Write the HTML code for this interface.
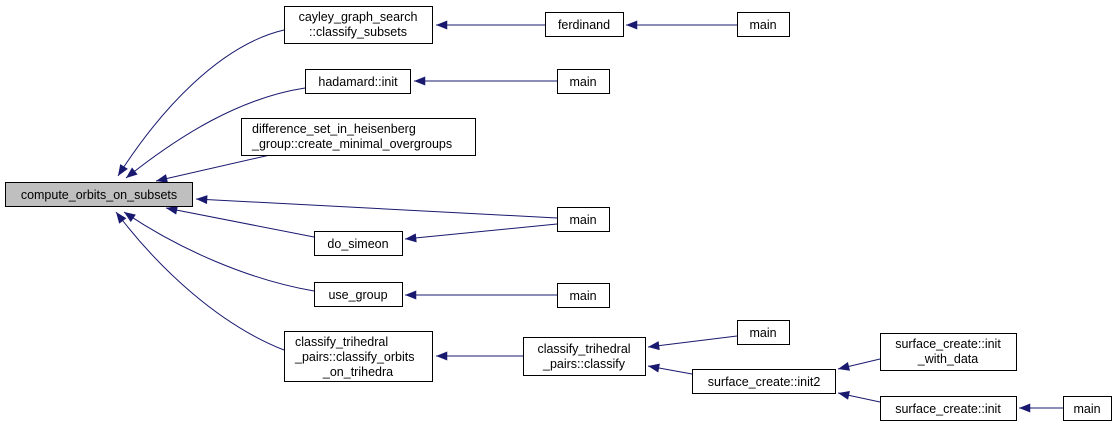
<!DOCTYPE html>
<html><head><meta charset="utf-8"><style>
html,body{margin:0;padding:0;background:#fff;width:1120px;height:427px;overflow:hidden}
svg text{font-family:"Liberation Sans",sans-serif;font-size:12.5px;fill:#000;text-anchor:middle}
svg text.l{text-anchor:start}
.n rect{fill:#fff;stroke:#000;stroke-width:1}
.e{fill:none;stroke:#191970;stroke-width:1}
</style></head><body>
<svg width="1120" height="427" viewBox="0 0 1120 427">
<defs><marker id="ar" viewBox="0 0 10 8" refX="10" refY="4" markerWidth="12" markerHeight="9" markerUnits="userSpaceOnUse" orient="auto"><path d="M0,0 L10,4 L0,8 z" fill="#191970"/></marker></defs>
<g>
<path class="e" marker-end="url(#ar)" d="M284,30 C220,45 160,110 118,176"/>
<path class="e" marker-end="url(#ar)" d="M305,88 C240,98 180,135 126,178"/>
<path class="e" marker-end="url(#ar)" d="M270,155 L156,181"/>
<path class="e" marker-end="url(#ar)" d="M557,218 L196,199"/>
<path class="e" marker-end="url(#ar)" d="M314,237 L166,208"/>
<path class="e" marker-end="url(#ar)" d="M314,291 C250,280 180,250 124,212"/>
<path class="e" marker-end="url(#ar)" d="M284,350 C220,325 160,270 116,212"/>
<path class="e" marker-end="url(#ar)" d="M545,25 L436,25"/>
<path class="e" marker-end="url(#ar)" d="M737,25 L626,25"/>
<path class="e" marker-end="url(#ar)" d="M557,81 L414,81"/>
<path class="e" marker-end="url(#ar)" d="M557,224 L405,239"/>
<path class="e" marker-end="url(#ar)" d="M557,295 L405,295"/>
<path class="e" marker-end="url(#ar)" d="M523,356 L436,356"/>
<path class="e" marker-end="url(#ar)" d="M737,336 L648,347"/>
<path class="e" marker-end="url(#ar)" d="M692,374 L648,366"/>
<path class="e" marker-end="url(#ar)" d="M880,359 L838,369"/>
<path class="e" marker-end="url(#ar)" d="M880,402 L838,393"/>
<path class="e" marker-end="url(#ar)" d="M1063,408 L1019,408"/>
</g>
<g class="n"><rect x="5.5" y="182.5" width="187" height="24" style="fill:#bfbfbf"/><text x="99" y="199">compute_orbits_on_subsets</text></g>
<g class="n"><rect x="284.5" y="6.5" width="148" height="37"/><text x="358" y="21">cayley_graph_search</text><text x="358" y="36">::classify_subsets</text></g>
<g class="n"><rect x="305.5" y="69.5" width="105" height="24"/><text x="358" y="86">hadamard::init</text></g>
<g class="n"><rect x="241.5" y="118.5" width="234" height="37"/><text class="l" x="252" y="133">difference_set_in_heisenberg</text><text class="l" x="252" y="148">_group::create_minimal_overgroups</text></g>
<g class="n"><rect x="314.5" y="231.5" width="88" height="24"/><text x="358" y="248">do_simeon</text></g>
<g class="n"><rect x="314.5" y="282.5" width="88" height="24"/><text x="358" y="299">use_group</text></g>
<g class="n"><rect x="284.5" y="331.5" width="148" height="50"/><text class="l" x="295" y="346">classify_trihedral</text><text class="l" x="295" y="361">_pairs::classify_orbits</text><text x="358" y="376">_on_trihedra</text></g>
<g class="n"><rect x="545.5" y="12.5" width="78" height="24"/><text x="584" y="29">ferdinand</text></g>
<g class="n"><rect x="737.5" y="12.5" width="52" height="24"/><text x="763" y="29">main</text></g>
<g class="n"><rect x="557.5" y="69.5" width="52" height="24"/><text x="583" y="86">main</text></g>
<g class="n"><rect x="557.5" y="207.5" width="52" height="24"/><text x="583" y="224">main</text></g>
<g class="n"><rect x="557.5" y="283.5" width="52" height="24"/><text x="583" y="300">main</text></g>
<g class="n"><rect x="523.5" y="337.5" width="122" height="38"/><text x="584" y="353">classify_trihedral</text><text x="584" y="368">_pairs::classify</text></g>
<g class="n"><rect x="737.5" y="320.5" width="52" height="24"/><text x="763" y="337">main</text></g>
<g class="n"><rect x="692.5" y="369.5" width="143" height="24"/><text x="764" y="386">surface_create::init2</text></g>
<g class="n"><rect x="880.5" y="333.5" width="136" height="37"/><text x="948" y="348">surface_create::init</text><text x="948" y="363">_with_data</text></g>
<g class="n"><rect x="880.5" y="396.5" width="136" height="24"/><text x="948" y="413">surface_create::init</text></g>
<g class="n"><rect x="1063.5" y="396.5" width="48" height="24"/><text x="1087" y="413">main</text></g>
</svg>
</body></html>
